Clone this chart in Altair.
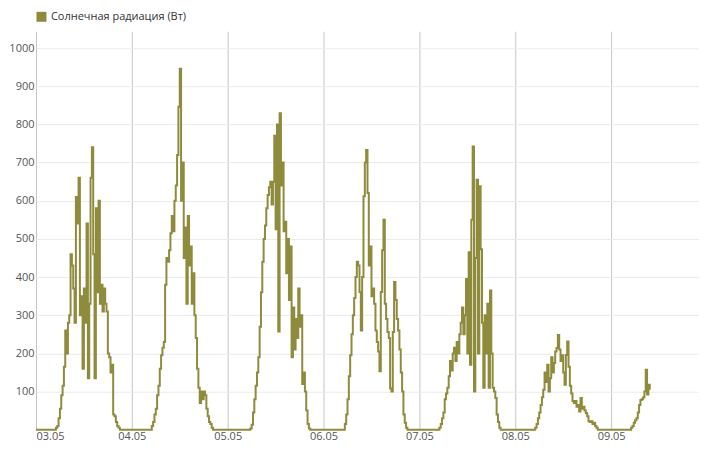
import altair as alt
import pandas as pd

series_name = "Солнечная радиация (Вт)"
start_date = "2024-05-03"
line_color = "#8f8b3d"
sunrise_hour = 5          # daytime lists start at 05:00
steps_per_hour = 3        # 20-minute readings

day_ticks = [3, 4, 5, 6, 7, 8, 9]
y_ticks = [100, 200, 300, 400, 500, 600, 700, 800, 900, 1000]

# daytime readings (W), every 20 min starting 05:00
day1 = [5, 10, 30, 55, 90, 115, 165, 260, 200, 280, 300, 460, 430, 370, 280, 610,
        540, 660, 300, 350, 160, 370, 280, 540, 135, 330, 660, 740, 460, 135, 580, 360,
        600, 330, 380, 310, 370, 330, 310, 200, 190, 150, 170, 40, 35, 20, 10, 5]
day2 = [10, 20, 40, 55, 90, 115, 160, 195, 215, 230, 380, 450, 440, 470, 515, 560,
        520, 600, 640, 720, 846, 946, 600, 700, 450, 530, 330, 560, 430, 480, 330, 410,
        300, 240, 160, 110, 70, 100, 80, 100, 90, 55, 35, 20, 15, 5]
day3 = [0, 0, 3, 13, 45, 80, 115, 150, 190, 270, 360, 440, 500, 535, 580, 615,
        635, 650, 590, 650, 770, 525, 800, 257, 829, 640, 700, 520, 545, 410, 500, 340,
        480, 190, 320, 210, 290, 240, 370, 270, 300, 120, 150, 100, 50, 15, 3]
day4 = [0, 15, 40, 80, 140, 195, 250, 300, 345, 400, 440, 430, 361, 260, 400, 612,
        700, 733, 620, 430, 480, 350, 370, 330, 260, 230, 205, 153, 361, 470, 550, 330,
        290, 256, 240, 108, 100, 256, 387, 340, 290, 260, 210, 150, 100, 40, 18, 5]
day5 = [5, 15, 30, 45, 80, 95, 110, 140, 180, 155, 200, 215, 180, 230, 200, 250,
        280, 320, 250, 300, 395, 200, 465, 170, 550, 742, 100, 450, 655, 200, 638, 473,
        280, 110, 300, 200, 330, 110, 365, 200, 110, 100, 83, 40, 20, 5]
day6 = [5, 15, 30, 45, 65, 85, 105, 150, 125, 170, 100, 135, 190, 150, 175, 205,
        214, 248, 210, 180, 195, 150, 118, 196, 231, 165, 115, 95, 75, 70, 75, 60,
        65, 48, 83, 55, 60, 50, 44, 35, 22, 20, 22, 15, 18, 10, 5]
day7 = [5, 10, 18, 25, 30, 45, 65, 78, 80, 85, 100, 157, 92, 118, 105]

days = [day1, day2, day3, day4, day5, day6, day7]
per_day = 24 * steps_per_hour
n = (len(days) - 1) * per_day + sunrise_hour * steps_per_hour + len(day7)
vals = [0.0] * n
for d, arr in enumerate(days):
    s = d * per_day + sunrise_hour * steps_per_hour
    for i, v in enumerate(arr):
        vals[s + i] = v

times = pd.date_range(start_date, periods=n, freq="20min")
df = pd.DataFrame({"time": times.strftime("%Y-%m-%dT%H:%M:%S"), "value": vals, "series": series_name})

font = "Open Sans"

chart = alt.Chart(df).mark_line(interpolate="step-after", strokeWidth=2).encode(
    x=alt.X(
        "time:T", title=None,
        scale=alt.Scale(domain=[alt.DateTime(year=2024, month=5, date=3),
                                alt.DateTime(year=2024, month=5, date=9, hours=22)]),
        axis=alt.Axis(values=[alt.DateTime(year=2024, month=5, date=d) for d in day_ticks],
                      format="%d.%m", grid=True, gridColor="#c4c4c4", gridWidth=1,
                      ticks=False, domain=False, labelPadding=1, labelFontSize=11,
                      labelColor="#555555", labelFont=font),
    ),
    y=alt.Y(
        "value:Q", title=None,
        scale=alt.Scale(domain=[0, 1044], nice=False),
        axis=alt.Axis(values=y_ticks, format="d", grid=True, gridColor="#ebebeb", gridWidth=1,
                      ticks=False, domain=False, labelPadding=2, labelFontSize=11,
                      labelColor="#555555", labelFont=font),
    ),
    color=alt.Color(
        "series:N",
        scale=alt.Scale(range=[line_color]),
        legend=alt.Legend(title=None, orient="top", symbolType="square",
                          symbolFillColor=line_color, symbolStrokeWidth=0,
                          symbolSize=100, labelFontSize=11, labelFont=font,
                          labelColor="#333333", offset=9, padding=0),
    ),
).properties(
    width=664, height=399,
    padding={"left": 0, "right": 0, "top": 3, "bottom": 0},
).configure_view(stroke=None)

chart.save("out.html", embed_options={"renderer": "svg", "actions": False})
